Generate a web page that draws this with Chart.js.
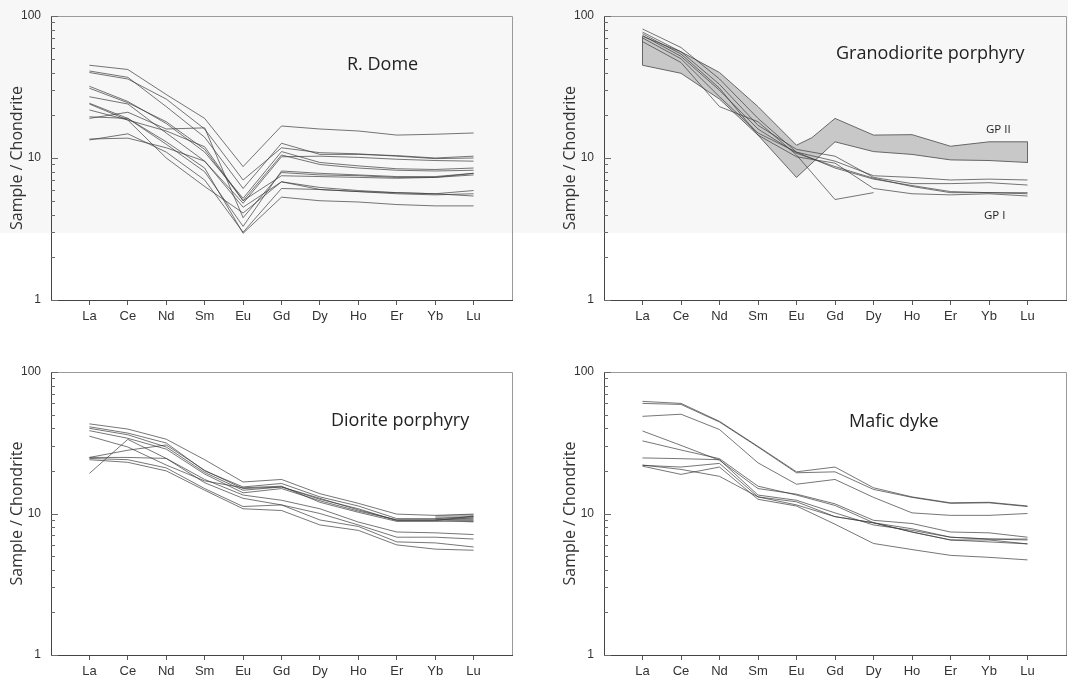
<!DOCTYPE html>
<html>
<head>
<meta charset="utf-8">
<title>Chondrite-normalised REE patterns</title>
<script src="https://cdn.jsdelivr.net/npm/chart.js@4.4.1/dist/chart.umd.min.js"></script>
<style>
  html, body { margin: 0; padding: 0; background: #fff; }
  #page { position: relative; width: 1068px; height: 683px; overflow: hidden; background: #fff; }
  #haze { position: absolute; left: 0; top: 0; width: 1068px; height: 233px; background: #f7f7f7; }
  canvas { position: absolute; }
</style>
</head>
<body>
<div id="page">
  <div id="haze"></div>
  <canvas id="dome" width="534" height="340" style="left:0;top:0"></canvas>
  <canvas id="grano" width="534" height="340" style="left:534px;top:0"></canvas>
  <canvas id="diorite" width="534" height="343" style="left:0;top:340px"></canvas>
  <canvas id="mafic" width="534" height="343" style="left:534px;top:340px"></canvas>
</div>
<script>
// REE order along the x axis
const elements = ['La', 'Ce', 'Nd', 'Sm', 'Eu', 'Gd', 'Dy', 'Ho', 'Er', 'Yb', 'Lu'];
// y ticks (log decades with minor steps), only decades get labels
const yTickValues = [1, 2, 3, 4, 5, 6, 7, 8, 9, 10, 20, 30, 40, 50, 60, 70, 80, 90, 100];
const yLabelValues = [1, 10, 100];

// R. Dome samples, one row per sample (La..Lu)
const domeSamples = [
  [45, 42, 28, 19, 8.7, 16.8, 16.0, 15.5, 14.5, 14.7, 15.0],
  [41, 37, 23, 14, 6.1, 12.7, 10.6, 10.6, 10.4, 10.0, 10.3],
  [40, 36, 26, 16, 7.0, 11.8, 10.9, 10.7, 10.3, 9.9, 10.0],
  [32, 25, 17.5, 11, 5.2, 11.1, 9.3, 8.8, 8.4, 8.3, 8.5],
  [31, 24.5, 18, 11.5, 5.0, 10.5, 9.0, 8.5, 8.2, 8.1, 8.2],
  [27, 24, 15, 9.5, 4.8, 10.2, 10.3, 10.1, 9.8, 9.6, 9.5],
  [24.3, 19, 12.5, 8, 3.3, 8.1, 7.8, 7.6, 7.4, 7.4, 7.8],
  [19, 21, 16, 16.3, 3.8, 7.9, 7.6, 7.5, 7.3, 7.3, 7.6],
  [21.8, 18.5, 15.5, 12, 5.0, 7.5, 7.4, 7.3, 7.2, 7.3, 7.8],
  [13.4, 14.8, 11, 7, 3.0, 6.1, 6.0, 5.8, 5.7, 5.6, 5.9],
  [13.6, 13.8, 11.8, 9.5, 4.5, 6.8, 6.0, 5.8, 5.6, 5.5, 5.6],
  [19.5, 19, 13, 8.5, 2.95, 5.3, 5.0, 4.9, 4.7, 4.6, 4.6],
  [24, 18.5, 10, 6.3, 4.1, 6.8, 6.2, 5.9, 5.7, 5.6, 5.4]
];

// Granodiorite porphyry, GP I samples
const granoSamples = [
  [81, 60, 36, 19, 11, 9.5, 7.5, 7.3, 7.0, 7.1, 7.0],
  [77, 56, 33, 17, 11.5, 10.3, 7.3, 6.6, 6.6, 6.7, 6.45],
  [73, 52, 30, 16, 10.8, 8.7, 7.2, 6.3, 5.7, 5.7, 5.7],
  [70, 50, 27, 15, 11.0, 8.5, 7.1, 6.4, 5.8, 5.7, 5.6],
  [66, 47, 23, 18, 10.5, 5.1, 5.7, null, null, null, null],
  [75, 54, 31, 14.5, 10.2, 9.2, 6.1, 5.6, 5.5, 5.6, 5.4]
];
// GP II field (upper and lower envelopes)
const gp2UpperX = [0, 1, 2, 3, 4, 4.4, 5, 6, 7, 8, 9, 10];
const gp2Upper = [72, 56, 40, 23, 12.3, 13.9, 19.0, 14.5, 14.6, 12.1, 13.0, 13.0];
const gp2LowerX = [0, 1, 2, 3, 4, 5, 6, 7, 8, 9, 10];
const gp2Lower = [45, 39.5, 26, 14.5, 7.3, 13.0, 11.1, 10.6, 9.7, 9.6, 9.3];

// Diorite porphyry samples
const dioriteSamples = [
  [43, 39.5, 33.5, 24, 16.7, 17.4, 13.8, 11.8, 9.9, 9.7, 9.9],
  [41, 37, 31.5, 20, 15.4, 16.3, 13.1, 11.3, 9.2, 9.2, 9.5],
  [40, 36, 29.5, 19.5, 14.6, 15.4, 12.6, 10.8, 8.9, 8.9, 9.6],
  [38.5, 34, 28.5, 19, 14, 15.0, 12.3, 10.4, 9.0, 9.0, 9.3],
  [35.2, 29.5, 22, 17, 15.2, 15.6, 12.0, 10.2, 8.8, 8.8, 8.8],
  [24.9, 28, 30.5, 20.2, 15.0, 15.4, 12.8, 10.6, 9.0, 9.0, 9.0],
  [19.2, 33.4, 24.5, 17.4, 13.5, 12.4, 10.8, 8.7, 7.4, 7.3, 7.1],
  [24.9, 24.9, 24.5, 16.5, 12.8, 11.5, 10.0, 8.3, 6.8, 6.8, 6.6],
  [24.5, 24, 21, 15, 11.2, 11.5, 9.0, 8.1, 6.3, 6.2, 5.8],
  [24, 23, 20, 14.6, 10.8, 10.5, 8.3, 7.6, 6.0, 5.6, 5.5]
];
// narrow shaded strip at the HREE end
const dioStripX = [9, 10];
const dioStripUpper = [9.7, 9.9];
const dioStripLower = [9.0, 8.6];

// Mafic dyke samples
const maficSamples = [
  [62, 60, 44.8, 29.8, 19.7, 21.3, 15.2, 13.1, 11.9, 12.0, 11.3],
  [60, 59, 44.3, 29.5, 19.4, 19.7, 14.8, 13.0, 11.8, 11.9, 11.2],
  [48.6, 50.3, 39.2, 22.8, 16.1, 17.4, 13.0, 10.1, 9.7, 9.7, 10.0],
  [38.3, 30.3, 23.8, 15.0, 13.7, 11.7, 8.95, 8.5, 7.4, 7.3, 6.8],
  [32.6, 28.1, 24.4, 15.6, 13.5, 11.4, 8.6, 7.8, 6.8, 6.6, 6.6],
  [24.7, 24.4, 24.0, 13.5, 12.4, 10.1, 8.3, 7.6, 6.8, 6.6, 6.5],
  [21.9, 21.3, 22.6, 13.1, 12.1, 9.5, 8.6, 7.4, 6.5, 6.5, 6.1],
  [21.6, 18.9, 21.3, 12.6, 11.3, 8.4, 6.14, 5.56, 5.06, 4.9, 4.7],
  [22, 20.5, 18.3, 13.1, 11.5, 9.5, 8.6, 7.4, 6.5, 6.3, 6.1]
];

const LINE_COLOR = 'rgba(60, 60, 60, 0.7)';
const TITLE_FONT = '18px "Open Sans", "Noto Sans", sans-serif';
const SMALL_FONT = '11.5px "Open Sans", "Noto Sans", sans-serif';

// frame, inward y ticks and text labels
const framePlugin = {
  id: 'frame',
  afterDatasetsDraw(chart, args, opts) {
    const { ctx, chartArea: a, scales: { y } } = chart;
    ctx.save();
    ctx.lineWidth = 1;
    ctx.strokeStyle = '#9a9a9a';
    ctx.beginPath();
    ctx.moveTo(a.left, Math.round(a.top) + 0.5);
    ctx.lineTo(Math.round(a.right) + 0.5, Math.round(a.top) + 0.5);
    ctx.lineTo(Math.round(a.right) + 0.5, a.bottom);
    ctx.stroke();

    ctx.strokeStyle = '#6a6a6a';
    yTickValues.forEach(v => {
      const py = Math.round(y.getPixelForValue(v)) + 0.5;
      const len = yLabelValues.includes(v) ? 7 : 4;
      ctx.beginPath();
      ctx.moveTo(a.left, py);
      ctx.lineTo(a.left + len, py);
      ctx.stroke();
    });

    (opts.labels || []).forEach(l => {
      ctx.font = l.font;
      ctx.fillStyle = '#222';
      ctx.textAlign = 'left';
      ctx.textBaseline = 'alphabetic';
      ctx.fillText(l.text, l.x, l.y);
    });
    ctx.restore();
  }
};

function bandDatasets(upperX, upper, lowerX, lower, fillColor, outline) {
  const up = upperX.map((x, i) => ({ x: x, y: upper[i] }));
  const low = lowerX.map((x, i) => ({ x: x, y: lower[i] }));
  const sets = [
    { data: up, borderColor: 'rgba(0,0,0,0)', borderWidth: 1, pointRadius: 0, fill: false, order: 2 },
    { data: low, borderColor: 'rgba(0,0,0,0)', borderWidth: 1, pointRadius: 0, fill: '-1', backgroundColor: fillColor, order: 2 }
  ];
  if (outline) {
    // closed outline: upper envelope, then lower envelope back to the start
    const ring = up.concat(low.slice().reverse(), [up[0]]);
    sets.push({ data: ring, borderColor: outline, borderWidth: 1, pointRadius: 0, fill: false, order: 1 });
  }
  return sets;
}

function makePanel(id, samples, cfg) {
  const datasets = (cfg.bands || []).slice();
  samples.forEach(row => {
    datasets.push({
      data: row.map((v, i) => ({ x: i, y: v })),
      borderColor: LINE_COLOR,
      borderWidth: 1,
      pointRadius: 0,
      fill: false,
      order: 0
    });
  });

  return new Chart(document.getElementById(id), {
    type: 'line',
    data: { datasets: datasets },
    options: {
      responsive: false,
      animation: false,
      devicePixelRatio: 1,
      events: [],
      layout: { padding: { left: cfg.left, top: cfg.top, right: cfg.right, bottom: 0 } },
      plugins: {
        legend: { display: false },
        tooltip: { enabled: false },
        frame: { labels: cfg.labels }
      },
      scales: {
        x: {
          type: 'linear',
          min: -1,
          max: 11,
          afterBuildTicks: s => { s.ticks = elements.map((e, i) => ({ value: i })); },
          afterFit: s => { s.height = cfg.xHeight; },
          ticks: {
            callback: v => elements[v] || '',
            autoSkip: false,
            maxRotation: 0,
            padding: 4,
            color: '#333',
            font: { family: '"Liberation Sans", Arial, sans-serif', size: 13 }
          },
          grid: { drawOnChartArea: false, drawTicks: true, tickLength: 5, color: '#555' },
          border: { display: true, color: '#444', width: 1 }
        },
        y: {
          type: 'logarithmic',
          min: 1,
          max: 100,
          afterBuildTicks: s => { s.ticks = yTickValues.map(v => ({ value: v })); },
          afterFit: s => { s.width = 51; },
          ticks: {
            callback: v => yLabelValues.includes(v) ? String(v) : '',
            autoSkip: false,
            padding: 2,
            color: '#333',
            font: { family: '"Liberation Sans", Arial, sans-serif', size: 12 }
          },
          grid: { display: false },
          border: { display: true, color: '#444', width: 1 },
          title: {
            display: true,
            text: 'Sample / Chondrite',
            color: '#333',
            font: { family: '"Open Sans", "Noto Sans", sans-serif', size: 16 },
            padding: { top: 8, bottom: 0 }
          }
        }
      }
    },
    plugins: [framePlugin]
  });
}

makePanel('dome', domeSamples, {
  left: 0, top: 16, right: 22, xHeight: 40,
  labels: [{ text: 'R. Dome', x: 347, y: 70, font: TITLE_FONT }]
});

makePanel('grano', granoSamples, {
  left: 19, top: 16, right: 2, xHeight: 40,
  bands: bandDatasets(gp2UpperX, gp2Upper, gp2LowerX, gp2Lower, '#c8c8c8', '#666'),
  labels: [
    { text: 'Granodiorite porphyry', x: 302, y: 59, font: TITLE_FONT },
    { text: 'GP II', x: 452, y: 133, font: SMALL_FONT },
    { text: 'GP I', x: 450, y: 219, font: SMALL_FONT }
  ]
});

makePanel('diorite', dioriteSamples, {
  left: 0, top: 32, right: 22, xHeight: 28,
  bands: bandDatasets(dioStripX, dioStripUpper, dioStripX, dioStripLower, '#b4b4b4', null),
  labels: [{ text: 'Diorite porphyry', x: 331, y: 86, font: TITLE_FONT }]
});

makePanel('mafic', maficSamples, {
  left: 19, top: 32, right: 2, xHeight: 28,
  labels: [{ text: 'Mafic dyke', x: 315, y: 87, font: TITLE_FONT }]
});
</script>
</body>
</html>
